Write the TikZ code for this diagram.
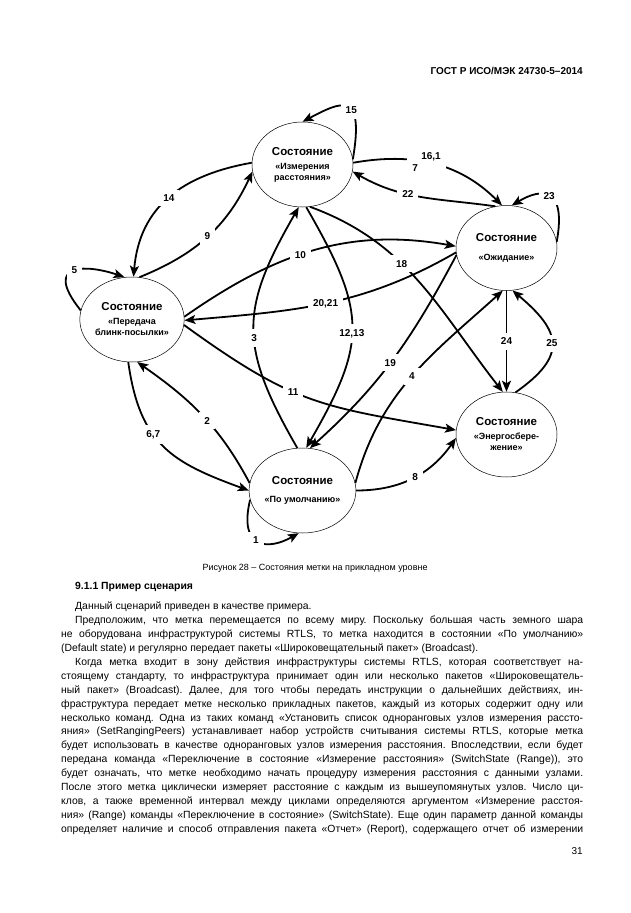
\documentclass[tikz,border=0pt]{standalone}
\usepackage{fontspec}
\setmainfont{Liberation Sans}
\usepackage{tikz}
\usetikzlibrary{shapes.geometric, arrows.meta}

\newcommand{\sthead}{{\fontsize{11.5}{13}\selectfont Состояние}}

\begin{document}
\frenchspacing
\begin{tikzpicture}[x=1pt, y=1pt,
    state/.style={draw, ellipse, line width=0.5pt, minimum width=101pt, minimum height=85pt, inner sep=0pt, align=center, font=\fontsize{9}{11}\selectfont\bfseries},
    trans/.style={line width=1.8pt, -{Stealth[length=11pt, width=9pt, inset=2.5pt]}},
    num/.style={fill=white, inner sep=5pt, font=\fontsize{10}{12}\selectfont\bfseries},
    bodytext/.style={anchor=base west, inner sep=0pt, text width=522pt, align=justify, font=\fontsize{10.4}{13.94}\selectfont}
]
\path[use as bounding box, fill=white] (0,0) rectangle (630,-913);

\node (hdr) [anchor=base east, inner sep=0pt, font=\fontsize{10}{12}\selectfont\bfseries] at (583,-74) {ГОСТ Р ИСО/МЭК 24730-5–2014};

% states
\node (meas) [state] at (302.5,-164.5) {\sthead\\[3pt] «Измерения\\ расстояния»};
\node (idle) [state] at (506.5,-248) {\sthead\\[8pt] «Ожидание»};
\node (blink) [state] at (132,-319.5) {\sthead\\[3pt] «Передача\\ блинк-посылки»};
\node (dflt) [state] at (302.5,-490.5) {\sthead\\[7pt] «По умолчанию»};
\node (save) [state] at (506.5,-434.5) {\sthead\\[3pt] «Энергосбере-\\ жение»};

% loops
\draw[trans] (meas.6) .. controls +(12,70) and +(38,20) .. (meas.90) node[num,pos=.4] {15};
\draw[trans] (blink.170) .. controls +(-40,50) and +(-35,12) .. (blink.100) node[num,pos=.5] {5};
\draw[trans] (idle.7) .. controls +(10,55) and +(30,18) .. (idle.83) node[num,pos=.5] {23};
\draw[trans] (dflt.190) .. controls +(-12,-50) and +(-30,-17) .. (dflt.265) node[num,pos=.45] {1};

% transitions
\draw[trans] (meas.178) to[out=190, in=85, looseness=1.1] node[num,pos=.5] {14} (blink.88);
\draw[trans] (blink.80) to[out=22, in=245] node[num,pos=.5] {9} (meas.188);
\draw[trans] (blink.3) to[out=35, in=170] node[num,pos=.45] {10} (idle.178);
\draw[trans] (idle.185) to[out=210, in=5] node[num,pos=.5] {20,21} (blink.359);
\draw[trans] (blink.354) to[out=-36, in=170, looseness=1.2] node[num,pos=.42] {11} (save.175);
\draw[trans] (dflt.97) to[out=120, in=240, looseness=1.25] node[num,pos=.45] {3} (meas.265);
\draw[trans] (meas.275) to[out=-60, in=60, looseness=1.3] node[num,pos=.53] {12,13} (dflt.85);
\draw[trans] (meas.280) to[out=-20, in=128] node[num,pos=.4] {18} (save.95);
\draw[trans] (meas.2) to[out=10, in=135] node[num,pos=.45,align=left] {\hspace*{9pt}16,1\\7} (idle.96);
\draw[trans] (idle.105) to[out=172, in=-30] node[num,pos=.6] {22} (meas.352);
\draw[trans] (idle.188) to[out=242, in=42] node[num,pos=.52] {19} (dflt.80);
\draw[trans] (dflt.8) to[out=75, in=222] node[num,pos=.5] {4} (idle.265);
\draw[trans] (idle.270) -- node[num,pos=.5] {24} (save.90);
\draw[trans] (save.78) to[out=35, in=-40, looseness=1.6] node[num,pos=.5] {25} (idle.278);
\draw[trans] (dflt.172) to[out=118, in=-35] node[num,pos=.45] {2} (blink.277);
\draw[trans] (blink.265) to[out=-82, in=160, looseness=1.2] node[num,pos=.4] {6,7} (dflt.180);
\draw[trans] (dflt.0) to[out=0, in=235] node[num,pos=.52] {8} (save.184);

\node (cap) [anchor=base, inner sep=0pt, font=\fontsize{9}{11}\selectfont] at (315,-570) {Рисунок 28 – Состояния метки на прикладном уровне};
\node (sect) [anchor=base west, inner sep=0pt, font=\fontsize{10.4}{12}\selectfont\bfseries] at (75,-589) {9.1.1 Пример сценария};

\node (body) [bodytext] at (61,-609.5) {\hyphenpenalty=10000 \tolerance=10000
\hspace*{14pt}Данный сценарий приведен в качестве примера.\par
\hspace*{14pt}Предположим, что метка перемещается по всему миру. Поскольку большая часть земного шара\linebreak
не оборудована инфраструктурой системы RTLS, то метка находится в состоянии «По умолчанию»\linebreak
(Default state) и регулярно передает пакеты «Широковещательный пакет» (Broadcast).\par
\hspace*{14pt}Когда метка входит в зону действия инфраструктуры системы RTLS, которая соответствует на-\linebreak
стоящему стандарту, то инфраструктура принимает один или несколько пакетов «Широковещатель-\linebreak
ный пакет» (Broadcast). Далее, для того чтобы передать инструкции о дальнейших действиях, ин-\linebreak
фраструктура передает метке несколько прикладных пакетов, каждый из которых содержит одну или\linebreak
несколько команд. Одна из таких команд «Установить список одноранговых узлов измерения рассто-\linebreak
яния» (SetRangingPeers) устанавливает набор устройств считывания системы RTLS, которые метка\linebreak
будет использовать в качестве одноранговых узлов измерения расстояния. Впоследствии, если будет\linebreak
передана команда «Переключение в состояние «Измерение расстояния» (SwitchState (Range)), это\linebreak
будет означать, что метке необходимо начать процедуру измерения расстояния с данными узлами.\linebreak
После этого метка циклически измеряет расстояние с каждым из вышеупомянутых узлов. Число ци-\linebreak
клов, а также временной интервал между циклами определяются аргументом «Измерение расстоя-\linebreak
ния» (Range) команды «Переключение в состояние» (SwitchState). Еще один параметр данной команды\linebreak
определяет наличие и способ отправления пакета «Отчет» (Report), содержащего отчет об измерении\parfillskip=0pt\par};

\node (pgnum) [anchor=base east, inner sep=0pt, font=\fontsize{10}{12}\selectfont] at (583,-854) {31};
\end{tikzpicture}
\end{document}
